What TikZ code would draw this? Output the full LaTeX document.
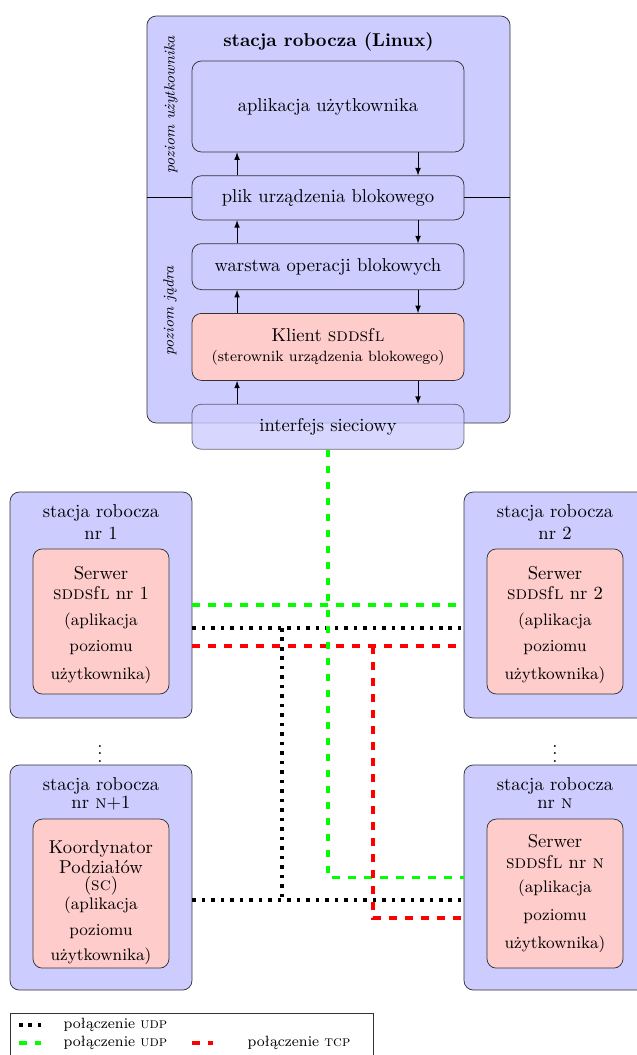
\documentclass[tikz,border=0pt]{standalone}
\usepackage{fontspec}
\usepackage{tikz}
\usetikzlibrary{positioning}
\usetikzlibrary{arrows}
\tikzset {
  node distance={12.4pt},
  % workstation frames
  station/.style = {draw=black!80, fill=blue!20, rounded corners=5pt},
  % layers of the client workstation
  layer/.style = {draw=black!80, fill=blue!20, rounded corners=5pt, minimum width=146.2pt, align=center},
  % sddsfl programs
  server/.style = {draw=black!80, fill=red!20, rounded corners=5pt, minimum width=73.1pt, align=center},
  % network connections
  udp/.style = {black, line width=1.9pt, dash pattern=on 1.9pt off 3.2pt},
  udpg/.style = {green, line width=1.9pt, dash pattern=on 4.1pt off 4.5pt},
  tcp/.style = {red, line width=1.9pt, dash pattern=on 4.1pt off 4.5pt},
  side/.style = {font=\footnotesize\itshape, rotate=90},
}

\begin{document}
\begin{tikzpicture}[x=0.5376pt, y=-0.5376pt, >=latex]
        \useasboundingbox (0,0) rectangle (637,1055);

        % client workstation
        \node[station, minimum width=195.2pt, minimum height=218.8pt] (main) at (328.5,219.5) {};
        \node[font=\bfseries, below=5.4pt of main.north] (title) {stacja robocza (Linux)};
        \node[side] (userlvl) at (171,105) {poziom użytkownika};
        \node[side] (kernlvl) at (170,311) {poziom jądra};

        \node[layer, minimum height=48.9pt] (app) at (328,106.5) {aplikacja użytkownika};
        \node[layer, minimum height=23.7pt, below=of app] (plik) {plik urządzenia blokowego};
        \node[layer, minimum height=24.7pt, below=of plik] (warstwa) {warstwa operacji blokowych};
        \node[layer, fill=red!20, minimum height=36pt, below=of warstwa] (klient) {Klient \textsc{sdds}f\textsc{l}\\[-1.5pt]{\footnotesize (sterownik urządzenia blokowego)}};
        \node[layer, fill opacity=0.8, draw opacity=0.7, text opacity=1, minimum height=24.2pt, below=of klient] (iface) {interfejs sieciowy};

        \draw (main.west |- plik.west) -- (plik.west);
        \draw (plik.east) -- (main.east |- plik.east);

        \draw [->] ([xshift=-48.9pt]plik.north) -- ([xshift=-48.9pt]app.south);
        \draw [->] ([xshift=48.4pt]app.south) -- ([xshift=48.4pt]plik.north);
        \draw [->] ([xshift=-48.9pt]warstwa.north) -- ([xshift=-48.9pt]plik.south);
        \draw [->] ([xshift=48.4pt]plik.south) -- ([xshift=48.4pt]warstwa.north);
        \draw [->] ([xshift=-48.9pt]klient.north) -- ([xshift=-48.9pt]warstwa.south);
        \draw [->] ([xshift=48.4pt]warstwa.south) -- ([xshift=48.4pt]klient.north);
        \draw [->] ([xshift=-48.9pt]iface.north) -- ([xshift=-48.9pt]klient.south);
        \draw [->] ([xshift=48.4pt]klient.south) -- ([xshift=48.4pt]iface.north);

        % server workstations
        \node[station, minimum width=97.8pt, minimum height=121.5pt] (ws1) at (101,605) {};
        \node[align=center, below=3.2pt of ws1.north] (ws1t) {stacja robocza\\nr 1};
        \node[server, minimum height=78pt, above=12.9pt of ws1.south] (srv1) {Serwer\rule{0pt}{11pt}\\[-1pt]\textsc{sdds}f\textsc{l} nr 1\\[2pt]\small (aplikacja\\[2pt]\small poziomu\\[3pt]\small użytkownika)};

        \node[station, minimum width=97.8pt, minimum height=121.5pt] (ws2) at (555,605) {};
        \node[align=center, below=3.2pt of ws2.north] (ws2t) {stacja robocza\\nr 2};
        \node[server, minimum height=78pt, above=12.9pt of ws2.south] (srv2) {Serwer\rule{0pt}{11pt}\\[-1pt]\textsc{sdds}f\textsc{l} nr 2\\[2pt]\small (aplikacja\\[2pt]\small poziomu\\[3pt]\small użytkownika)};

        \node[inner sep=0pt] (dots1) at (100,748) {$\vdots$};
        \node[inner sep=0pt] (dots2) at (555,748) {$\vdots$};

        \node[station, minimum width=97.8pt, minimum height=121pt] (wsn1) at (101,877.5) {};
        \node[align=center, below=3.2pt of wsn1.north] (wsn1t) {stacja robocza\\[-2pt]nr \textsc{n}+1};
        \node[server, minimum height=80.1pt, above=11.8pt of wsn1.south] (coord) {};
        \node[align=center, below=8pt of coord.north] (coordt) {Koordynator\\[-1pt]Podziałów\\[-3pt](\textsc{sc})\\[-1.5pt]\small (aplikacja\\[2pt]\small poziomu\\[1.5pt]\small użytkownika)};

        \node[station, minimum width=97.8pt, minimum height=121pt] (wsn) at (555,877.5) {};
        \node[align=center, below=3.2pt of wsn.north] (wsnt) {stacja robocza\\[-2pt]nr \textsc{n}};
        \node[server, minimum height=80.1pt, above=11.8pt of wsn.south] (srvn) {Serwer\\[-1pt]\textsc{sdds}f\textsc{l} nr \textsc{n}\\[1pt]\small (aplikacja\\[3pt]\small poziomu\\[3pt]\small użytkownika)};

        % connections
        \coordinate (udptop) at (282,628);
        \coordinate (udpbot) at (282,900);
        \coordinate (tcptop) at (373,646);

        \draw[udpg] (ws1.east) -- (ws2.west);
        \draw[udp] ([yshift=-12.4pt]ws1.east) -- ([yshift=-12.4pt]ws2.west);
        \draw[tcp] ([yshift=-22pt]ws1.east) -- ([yshift=-22pt]ws2.west);
        \draw[udpg] (iface.south) |- (wsn.west);
        \draw[udp] (udptop) -- (udpbot);
        \draw[udp] ([yshift=-12.1pt]wsn1.east) -- ([yshift=-12.1pt]wsn.west);
        \draw[tcp] (tcptop) |- ([yshift=-21.8pt]wsn.west);

        % legend
        \node[draw=black!80, minimum width=195.2pt, minimum height=28.5pt] (legend) at (191.5,1039.5) {};
        \coordinate (k1) at (19,1025);
        \coordinate (k2) at (41,1025);
        \coordinate (g1) at (19,1043);
        \coordinate (g2) at (41,1043);
        \coordinate (r1) at (192,1043);
        \coordinate (r2) at (213,1043);
        \draw[udp] (k1) -- (k2);
        \draw[udpg] (g1) -- (g2);
        \draw[tcp] (r1) -- (r2);
        \node[font=\footnotesize, anchor=west] (lk) at (57,1025) {połączenie \textsc{udp}};
        \node[font=\footnotesize, anchor=west] (lg) at (57,1043) {połączenie \textsc{udp}};
        \node[font=\footnotesize, anchor=west] (lr) at (241,1043) {połączenie \textsc{tcp}};
      \end{tikzpicture}
\end{document}
